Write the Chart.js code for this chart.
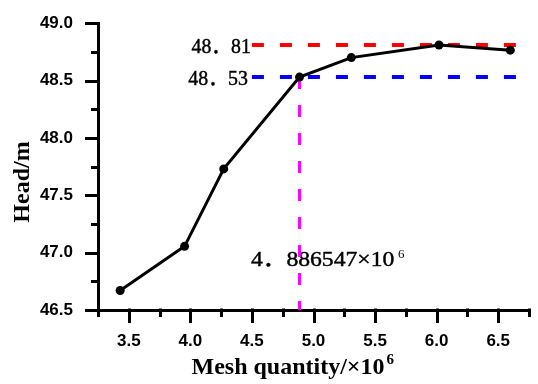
<!DOCTYPE html>
<html><head><meta charset="utf-8">
<script src="https://cdn.jsdelivr.net/npm/chart.js@4/dist/chart.umd.min.js"></script>
<style>html,body{margin:0;padding:0;background:#fff;overflow:hidden;}#wrap{width:538px;height:384px;}</style>
</head><body><div id="wrap"><canvas id="c" width="538" height="384"></canvas></div>
<script>
// ---- data ----
const meshQuantity = [3.43, 3.953, 4.271, 4.886547, 5.307, 6.019, 6.598];
const headValues   = [46.67, 47.055, 47.73, 48.53, 48.70, 48.81, 48.765];
const xTickValues  = [3.25, 3.5, 3.75, 4.0, 4.25, 4.5, 4.75, 5.0, 5.25, 5.5, 5.75, 6.0, 6.25, 6.5, 6.75];
const yTickValues  = [46.5, 46.75, 47.0, 47.25, 47.5, 47.75, 48.0, 48.25, 48.5, 48.75, 49.0];
const refHeadHigh  = 48.81;
const refHeadLow   = 48.53;
const refMesh      = 4.886547;
const refLineFromX = 4.5;
const refHighLabel = '48．81';
const refLowLabel  = '48．53';
const refMeshLabel = '4．886547×10';
const refMeshExp   = '6';
const xTitleText   = 'Mesh quantity/×10';
const xTitleExp    = '6';
const yTitleText   = 'Head/m';

const X_MIN = 3.25, X_MAX = 6.75, Y_MIN = 46.5, Y_MAX = 49.0;
const isMajor = v => Math.abs(v * 2 - Math.round(v * 2)) < 1e-6;

function fitText(ctx, text, x, baseline, targetW, align) {
  ctx.textAlign = 'left';
  ctx.textBaseline = 'alphabetic';
  const m = ctx.measureText(text);
  const ink = m.actualBoundingBoxLeft + m.actualBoundingBoxRight;
  const sx = targetW / ink;
  ctx.save();
  ctx.translate(x, baseline);
  ctx.scale(sx, 1);
  const dx = align === 'left' ? m.actualBoundingBoxLeft : -m.actualBoundingBoxRight;
  ctx.fillText(text, dx, 0);
  ctx.strokeText(text, dx, 0);
  ctx.restore();
}

const decor = {
  id: 'decor',
  beforeDatasetsDraw(chart) {
    const ctx = chart.ctx, xs = chart.scales.x, ys = chart.scales.y;
    ctx.save();
    ctx.fillStyle = '#000';
    ctx.strokeStyle = '#000';
    ctx.lineWidth = 0.45;
    ctx.font = '22px "Liberation Serif", "Noto Sans CJK SC", serif';
    const x0 = xs.getPixelForValue(refLineFromX);
    fitText(ctx, refHighLabel, x0 - 2, ys.getPixelForValue(refHeadHigh) + 8, 58.4, 'right');
    fitText(ctx, refLowLabel, x0 - 4, ys.getPixelForValue(refHeadLow) + 8, 59.7, 'right');
    const by = ys.getPixelForValue(Y_MIN) - 44;
    fitText(ctx, refMeshLabel, x0 - 1, by, 143.4, 'left');
    ctx.font = '13px "Liberation Serif", serif';
    ctx.textAlign = 'left';
    ctx.fillText(refMeshExp, x0 + 146, by - 8.5);
    ctx.restore();
  },
  afterDraw(chart) {
    const ctx = chart.ctx, xs = chart.scales.x, ys = chart.scales.y;
    const a = chart.chartArea;
    ctx.save();
    ctx.strokeStyle = '#000';
    ctx.lineWidth = 3;
    ctx.lineCap = 'butt';
    yTickValues.forEach(v => {
      const p = Math.round(ys.getPixelForValue(v)) + 0.5;
      const len = isMajor(v) ? 13 : 7;
      ctx.beginPath(); ctx.moveTo(a.left - len, p); ctx.lineTo(a.left + 1.5, p); ctx.stroke();
    });
    xTickValues.forEach(v => {
      const p = Math.round(xs.getPixelForValue(v)) + 0.5;
      const len = isMajor(v) ? 13 : 7;
      ctx.beginPath(); ctx.moveTo(p, a.bottom - 1.5); ctx.lineTo(p, a.bottom + len); ctx.stroke();
    });
    // titles
    ctx.fillStyle = '#000';
    ctx.font = 'bold 24px "Liberation Serif", "Times New Roman", serif';
    ctx.textBaseline = 'alphabetic';
    ctx.textAlign = 'left';
    ctx.fillText(xTitleText, 191.5, 374);
    const w = ctx.measureText(xTitleText).width;
    ctx.font = 'bold 15px "Liberation Serif", "Times New Roman", serif';
    ctx.fillText(xTitleExp, 191.5 + w + 2, 364);
    ctx.font = 'bold 24px "Liberation Serif", "Times New Roman", serif';
    ctx.save();
    ctx.translate(28.5, 182);
    ctx.rotate(-Math.PI / 2);
    ctx.textAlign = 'center';
    ctx.fillText(yTitleText, 0, 0);
    ctx.restore();
    ctx.restore();
  }
};

const tickFont = { family: '"Liberation Sans", Arial, sans-serif', size: 17, weight: 'bold' };

new Chart(document.getElementById('c'), {
  type: 'line',
  data: {
    datasets: [
      {
        label: 'Head',
        data: meshQuantity.map((x, i) => ({ x, y: headValues[i] })),
        borderColor: '#000', backgroundColor: '#000', borderWidth: 3,
        pointRadius: 4.5, pointBackgroundColor: '#000', pointBorderColor: '#000', pointBorderWidth: 0,
        tension: 0, order: 0, clip: false
      },
      {
        label: 'high',
        data: [{ x: refLineFromX, y: refHeadHigh }, { x: X_MAX, y: refHeadHigh }],
        borderColor: '#ff0000', borderWidth: 4, borderDash: [12, 16], pointRadius: 0, order: 2, clip: false
      },
      {
        label: 'low',
        data: [{ x: refLineFromX, y: refHeadLow }, { x: X_MAX, y: refHeadLow }],
        borderColor: '#0000ff', borderWidth: 4, borderDash: [12, 16], pointRadius: 0, order: 2, clip: false
      },
      {
        label: 'mesh',
        data: [{ x: refMesh, y: refHeadLow }, { x: refMesh, y: Y_MIN }],
        borderColor: '#ff00ff', borderWidth: 3, borderDash: [12, 16], pointRadius: 0, order: 1, clip: false
      }
    ]
  },
  options: {
    responsive: false, animation: false, devicePixelRatio: 1,
    layout: { padding: { top: 22, right: 1, left: 0, bottom: 0 } },
    plugins: { legend: { display: false }, tooltip: { enabled: false } },
    scales: {
      x: {
        type: 'linear', min: X_MIN, max: X_MAX,
        afterBuildTicks: s => { s.ticks = xTickValues.map(v => ({ value: v })); },
        afterFit: s => { s.height = 74; },
        ticks: { autoSkip: false, maxRotation: 0, color: '#000', font: tickFont, padding: 9,
                 callback: v => isMajor(v) ? Number(v).toFixed(1) : '' },
        grid: { display: true, drawOnChartArea: false, drawTicks: true, tickLength: 12,
                color: 'rgba(0,0,0,0)', tickColor: 'rgba(0,0,0,0)' },
        border: { display: true, color: '#000', width: 3 }
      },
      y: {
        type: 'linear', min: Y_MIN, max: Y_MAX,
        afterBuildTicks: s => { s.ticks = yTickValues.map(v => ({ value: v })); },
        afterFit: s => { s.width = 98; },
        ticks: { autoSkip: false, color: '#000', font: tickFont, padding: 13,
                 callback: v => isMajor(v) ? Number(v).toFixed(1) : '' },
        grid: { display: true, drawOnChartArea: false, drawTicks: true, tickLength: 12,
                color: 'rgba(0,0,0,0)', tickColor: 'rgba(0,0,0,0)' },
        border: { display: true, color: '#000', width: 3 }
      }
    }
  },
  plugins: [decor]
});
</script></body></html>
